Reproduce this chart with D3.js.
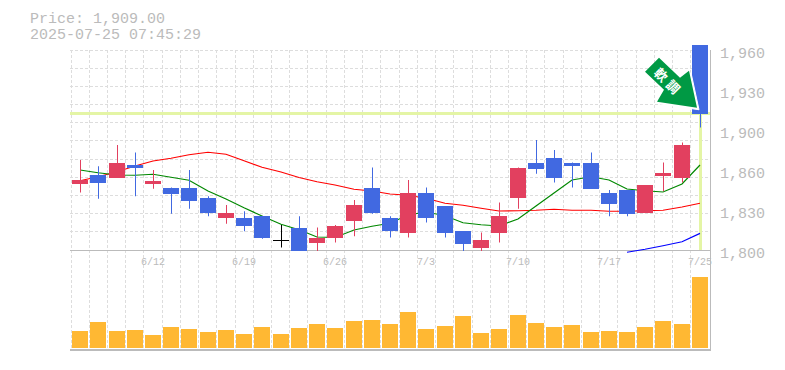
<!DOCTYPE html>
<html><head><meta charset="utf-8">
<script src="https://cdn.jsdelivr.net/npm/d3@7"></script>
<style>html,body{margin:0;padding:0;background:#fff}svg{display:block}text{font-family:"Liberation Mono",monospace;fill:#bbb}</style>
</head><body><div id="chart"></div>
<script>
const dates=["6/6","6/9","6/10","6/11","6/12","6/13","6/16","6/17","6/18","6/19","6/20","6/23","6/24","6/25","6/26","6/27","6/30","7/1","7/2","7/3","7/4","7/7","7/8","7/9","7/10","7/11","7/14","7/15","7/16","7/17","7/18","7/22","7/23","7/24","7/25"];
const dateLabels=["6/12","6/19","6/26","7/3","7/10","7/17","7/25"];
const open =[1853,1860,1858,1868,1853,1850,1850,1842,1826,1826,1827,1808,1818,1806,1810,1823,1850,1826,1814,1846,1835,1815,1802,1814,1842,1870,1874,1870,1870,1846,1848,1830,1859,1858,1964];
const close=[1856,1854,1870,1866,1855,1845,1839,1830,1830,1819,1810,1808,1799,1810,1819,1836,1830,1815,1846,1826,1814,1805,1808,1827,1866,1865,1858,1867,1849,1837,1829,1852,1862,1884,1909];
const high =[1872,1867,1884,1878,1864,1850,1864,1843,1836,1831,1827,1820,1827,1818,1820,1840,1866,1827,1856,1850,1835,1815,1814,1838,1866,1888,1880,1870,1878,1848,1848,1852,1870,1886,1964];
const low  =[1846,1841,1858,1843,1849,1829,1833,1827,1821,1815,1809,1802,1795,1798,1806,1811,1829,1810,1810,1822,1810,1798,1798,1806,1833,1861,1854,1850,1849,1827,1827,1830,1847,1854,1898];
const volume=[17,26,17,18,13,21,19,16,18,14,21,14,20,24,20,27,28,24,36,19,22,32,15,19,33,25,21,23,16,17,16,21,27,24,71];
const maShort=[1864,1861.8,1860,1859.8,1860.6,1858.2,1855.8,1847.2,1840.8,1833.8,1827.2,1820.6,1816.2,1810.4,1810,1816,1819,1821.4,1828,1830.4,1827.4,1821.8,1820.2,1819.2,1824.8,1835.2,1845.6,1856,1858.6,1856,1848.8,1847.4,1846.4,1852.8,1868];
const maMid=[1855.4,1858.6,1862.6,1867.2,1871.2,1873.4,1876.2,1878.2,1876.6,1871.4,1866.2,1862.4,1858,1854.6,1852,1848.6,1847.2,1844.8,1843.8,1841.4,1837.4,1835.8,1833.4,1831.2,1831.4,1831.8,1832.6,1831.8,1831.8,1831,1831,1831.4,1831.8,1834.4,1837.4];
const maLong=[null,null,null,null,null,null,null,null,null,null,null,null,null,null,null,null,null,null,null,null,null,null,null,null,null,null,null,null,null,null,1798.2,1800.6,1803.4,1806.6,1813.3];
const priceTicks=[1960,1928,1896,1864,1832,1800];
const priceLabels=["1,960","1,930","1,900","1,860","1,830","1,800"];
const lastPrice=1909;
const titleLines=["Price: 1,909.00","2025-07-25 07:45:29"];
const signalText=["軟","調"];

const W=785,H=370,UP="#e2405f",DOWN="#4169e1",GRID="#ddd",AXIS="#bbb";
const svg=d3.select("#chart").append("svg").attr("width",W).attr("height",H);
const x=d3.scaleBand().domain(d3.range(dates.length)).range([71,709]);
const cx=i=>Math.round(x(i)+x.bandwidth()/2);
const y=d3.scaleLinear().domain([1800,1960]).range([250,50]);
const yv=d3.scaleLinear().domain([0,71]).range([348,277]);
const bw=16;
const c=v=>Math.round(v)+0.5;

svg.append("defs").append("clipPath").attr("id","plot").append("rect").attr("x",70).attr("y",45).attr("width",640).attr("height",206);

// grid
const grid=svg.append("g").attr("stroke",GRID).attr("stroke-dasharray","3,2").attr("fill","none");
d3.range(12).forEach(k=>{const yy=c(50+k*200/11-0.5);grid.append("line").attr("x1",70).attr("x2",710).attr("y1",yy).attr("y2",yy);});
d3.range(dates.length).forEach(i=>{const xx=c(x(i)-0.5);grid.append("line").attr("x1",xx).attr("x2",xx).attr("y1",50).attr("y2",350);});

// last price guides
const ly=Math.round(y(lastPrice))-0.5;
svg.append("line").attr("x1",70).attr("x2",710).attr("y1",ly).attr("y2",ly).attr("stroke","#e4f5a5").attr("stroke-width",3);
svg.append("line").attr("x1",cx(34)+0.5).attr("x2",cx(34)+0.5).attr("y1",ly).attr("y2",250).attr("stroke","#e4f5a5").attr("stroke-width",3);

// frame
const frame=svg.append("g").attr("stroke",AXIS);
frame.append("line").attr("x1",70).attr("x2",711).attr("y1",250.5).attr("y2",250.5);
frame.append("line").attr("x1",70).attr("x2",711).attr("y1",350).attr("y2",350).attr("stroke-width",2);
frame.append("line").attr("x1",710.5).attr("x2",710.5).attr("y1",50).attr("y2",351);

// moving averages
const line=d3.line().defined(d=>d!=null).x((d,i)=>cx(i)).y(d=>y(d));
[[maMid,"#f00"],[maShort,"#080"],[maLong,"#00f"]].forEach(([s,col])=>{
  svg.append("path").attr("d",line(s)).attr("fill","none").attr("stroke",col).attr("stroke-width",1.2);
});

// candles
const candles=svg.append("g").attr("clip-path","url(#plot)");
dates.forEach((d,i)=>{
  const col=close[i]>open[i]?UP:close[i]<open[i]?DOWN:"#000";
  candles.append("line").attr("x1",cx(i)+0.5).attr("x2",cx(i)+0.5).attr("y1",y(high[i])).attr("y2",y(low[i])).attr("stroke",col);
  if(open[i]===close[i]){
    candles.append("line").attr("x1",cx(i)-8).attr("x2",cx(i)+8).attr("y1",c(y(open[i]))).attr("y2",c(y(open[i]))).attr("stroke",col);
  }else{
    const t=Math.round(y(Math.max(open[i],close[i]))),b=Math.round(y(Math.min(open[i],close[i])));
    candles.append("rect").attr("x",cx(i)-bw/2).attr("y",t).attr("width",bw).attr("height",b-t).attr("fill",col);
  }
});

// volume
svg.append("g").selectAll("rect").data(volume).join("rect")
  .attr("x",(d,i)=>cx(i)-bw/2).attr("width",bw)
  .attr("y",d=>yv(d)).attr("height",d=>yv(0)-yv(d)).attr("fill","#ffb833");

// signal arrow anchored on the last candle's close
const ax=cx(34),ay=y(close[34]);
const arrow=svg.append("g").attr("transform",`translate(${ax},${ay})`);
const pts=[[-41,-56],[-20,-36],[-11,-43],[-3,-6],[-43,-12],[-36,-24],[-55,-42]].map(p=>p.join(",")).join(" ");
arrow.append("polygon").attr("points",pts).attr("transform","translate(2,2)").attr("fill","#fff").attr("stroke","#fff").attr("stroke-width",1).attr("stroke-linejoin","round");
arrow.append("polygon").attr("points",pts).attr("fill","#009944");
signalText.forEach((t,k)=>{
  arrow.append("text").attr("transform",`translate(${-39+k*12},${-39+k*12}) rotate(45)`)
    .attr("text-anchor","middle").attr("dy","0.38em")
    .style("font-family",'"Noto Sans CJK JP"').style("font-weight","700").style("font-size","13px").style("fill","#fff").text(t);
});

// axis text
const lab=svg.append("g").style("font-size","15px");
priceTicks.forEach((t,k)=>lab.append("text").attr("x",720).attr("y",y(t)+7.5).text(priceLabels[k]));
titleLines.forEach((t,k)=>lab.append("text").attr("x",30).attr("y",23+k*15.5).text(t));
const dl=svg.append("g").style("font-size","10px").attr("text-anchor","middle");
dates.forEach((d,i)=>{ if(dateLabels.includes(d)) dl.append("text").attr("x",cx(i)).attr("y",265).text(d); });
</script></body></html>
